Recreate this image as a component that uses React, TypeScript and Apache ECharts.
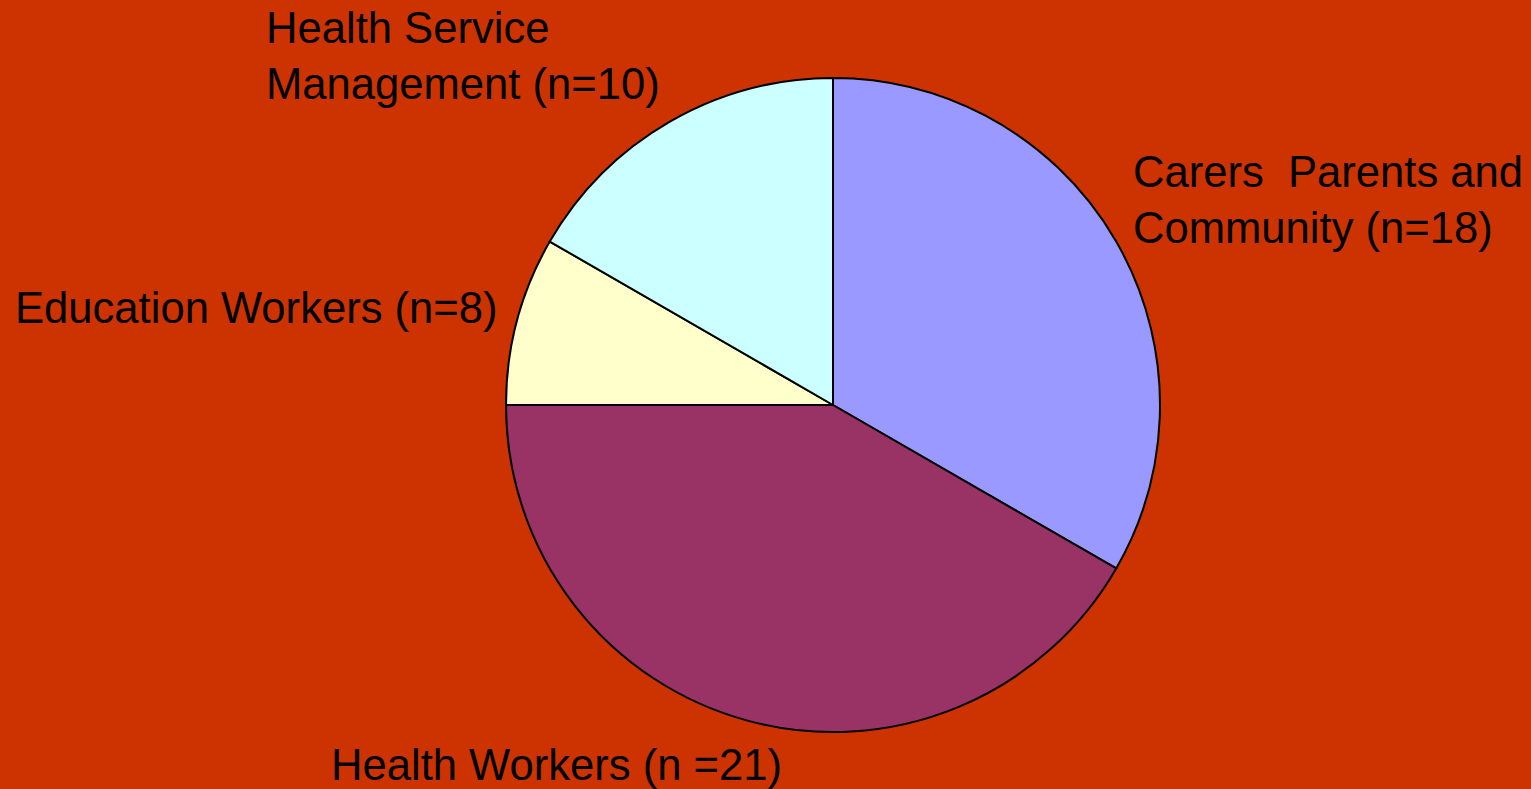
import React, { useEffect, useRef } from "react";
import * as echarts from "echarts";

// Categories in clockwise order starting at 12 o'clock
const categories = [
  "Carers  Parents and\nCommunity (n=18)",
  "Health Workers (n =21)",
  "Education Workers (n=8)",
  "Health Service\nManagement (n=10)",
];
// Slice shares (%)
const shares = [33.33, 41.67, 8.33, 16.67];
const colors = ["#9999FF", "#993366", "#FFFFCC", "#CCFFFF"];
// Label anchor positions (left x, top y of the label block)
const labelPos: [number, number][] = [
  [1133, 144],
  [331, 737],
  [15, 280],
  [266, 0],
];

export default function App() {
  const ref = useRef<HTMLDivElement>(null);
  useEffect(() => {
    if (!ref.current) return;
    const chart = echarts.init(ref.current, null, { renderer: "svg" });
    chart.setOption({
      animation: false,
      backgroundColor: "#CC3300",
      series: [
        {
          type: "pie",
          center: [833, 405],
          radius: 327,
          startAngle: 90,
          clockwise: true,
          label: { show: false },
          labelLine: { show: false },
          emphasis: { disabled: true },
          itemStyle: { borderColor: "#000000", borderWidth: 2 },
          data: categories.map((c, i) => ({
            name: c,
            value: shares[i],
            itemStyle: { color: colors[i] },
          })),
        },
      ],
      graphic: categories.map((c, i) => ({
        type: "text",
        left: labelPos[i][0],
        top: labelPos[i][1],
        style: {
          text: c,
          fill: "#000000",
          font: "43.6px 'Liberation Sans', Arial, sans-serif",
          lineHeight: 56,
          verticalAlign: "top",
          align: "left",
        },
      })),
    });
    return () => chart.dispose();
  }, []);
  return (
    <div
      ref={ref}
      style={{ position: "fixed", left: 0, top: 0, width: 1531, height: 789 }}
    />
  );
}
